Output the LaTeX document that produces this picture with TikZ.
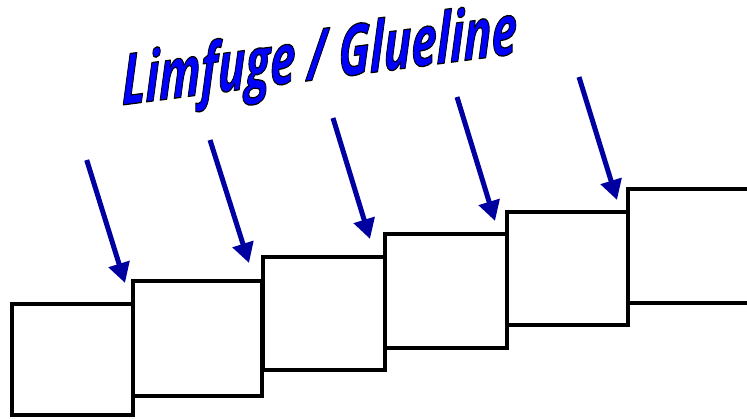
\documentclass[tikz,border=0pt]{standalone}
\usepackage{graphicx}
\usepackage{fontspec}
\newfontfamily\titlefont{Open Sans}
\usetikzlibrary{arrows.meta,calc}
\definecolor{arrowblue}{RGB}{0,0,160}
\definecolor{titleblue}{RGB}{0,0,255}
\newcommand{\outlineon}{\special{pdf:literal direct 2 Tr 0 0 0 RG 0.18 w 1 j}}
\newcommand{\outlineoff}{\special{pdf:literal direct 0 Tr}}
\newcommand{\glueTitle}{\resizebox{395pt}{54pt}{\titlefont\bfseries\itshape\outlineon Limfuge / Glueline\outlineoff}}
\begin{document}
\begin{tikzpicture}[x=1pt,y=-1pt,
  board/.style={draw=black, line width=4pt, fill=none, outer sep=0pt, inner sep=0pt},
  glue/.style={draw=arrowblue, line width=5pt, -{Triangle[length=20pt,width=21pt]}},
  titletext/.style={anchor=base west, transform shape, inner sep=0pt, outer sep=0pt}
  ]
\useasboundingbox (0,0) rectangle (747,418);
\clip (0,0) rectangle (747,418);
\fill[white] (0,0) rectangle (747,418);

% boards
\node[board, minimum width=121.6pt, minimum height=111.3pt] (b1) at (72.5,359.35) {};
\node[board, minimum width=128.4pt, minimum height=115pt]   (b2) at (197.5,338.5) {};
\node[board, minimum width=122.3pt, minimum height=113.3pt] (b3) at (323.85,313.65) {};
\node[board, minimum width=121.7pt, minimum height=113.7pt] (b4) at (445.85,291.15) {};
\node[board, minimum width=121.3pt, minimum height=112.7pt] (b5) at (567.65,268.65) {};
\node[board, minimum width=131.7pt, minimum height=114pt]   (b6) at (694.15,246.3) {};

% arrow ends
\coordinate (s1) at (86.7,160);  \coordinate (e1) at (125,283);
\coordinate (s2) at (210,140);   \coordinate (e2) at (249,263);
\coordinate (s3) at (333,118);   \coordinate (e3) at (370,239);
\coordinate (s4) at (457,97);    \coordinate (e4) at (495,221);
\coordinate (s5) at (579,77);    \coordinate (e5) at (617,200);
\foreach \i in {1,...,5} \draw[glue] (s\i) -- (e\i);

% title
\begin{scope}[shift={(122,105)}, yslant=0.13]
  \node[titletext, text=titleblue] (title) at (0,0) {\glueTitle};
\end{scope}
\end{tikzpicture}
\end{document}
